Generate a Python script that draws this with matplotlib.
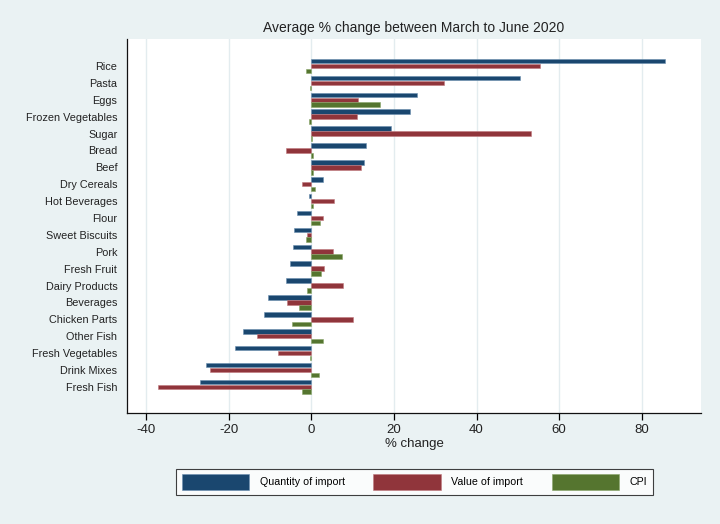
import matplotlib
matplotlib.use("Agg")
import matplotlib.pyplot as plt
import numpy as np

plt.rcParams['font.family'] = ['Liberation Sans', 'DejaVu Sans']
plt.rcParams['axes.unicode_minus'] = False

# categories top to bottom
categories = ["Rice", "Pasta", "Eggs", "Frozen Vegetables", "Sugar", "Bread", "Beef",
              "Dry Cereals", "Hot Beverages", "Flour", "Sweet Biscuits", "Pork",
              "Fresh Fruit", "Dairy Products", "Beverages", "Chicken Parts",
              "Other Fish", "Fresh Vegetables", "Drink Mixes", "Fresh Fish"]

quantity = [85.7, 50.6, 25.5, 23.9, 19.3, 13.2, 12.7, 2.7, -0.5, -3.6, -4.2, -4.4,
            -5.3, -6.2, -10.5, -11.4, -16.6, -18.6, -25.5, -26.9]
value = [55.4, 32.1, 11.4, 11.1, 53.3, -6.2, 12.0, -2.2, 5.5, 2.9, -1.0, 5.3,
         3.0, 7.6, -6.0, 10.1, -13.3, -8.0, -24.7, -37.3]
cpi = [-1.3, -0.4, 16.6, -0.6, 0.2, 0.3, 0.3, 0.8, 0.3, 2.0, -1.3, 7.3,
       2.3, -1.1, -2.9, -4.8, 2.8, -0.3, 1.9, -2.2]

series_names = ["Quantity of import", "Value of import", "CPI"]
colors = ["#1a476f", "#90353b", "#55752f"]
edges = ["#6b8fb0", "#c07a7f", "#8aa66a"]
bg = "#eaf2f3"

fig = plt.figure(figsize=(7.2, 5.24), dpi=100, facecolor=bg)
ax = fig.add_axes([127/720, 1-413/524, (701-127)/720, (413-39)/524])
ax.set_facecolor("white")

y = np.arange(len(categories))
h = 0.27
offsets = [-0.29, 0.0, 0.29]
handles = []
for vals, off, c, ec, name in zip([quantity, value, cpi], offsets, colors, edges, series_names):
    b = ax.barh(y + off, vals, height=h, color=c, edgecolor=ec, linewidth=0.4, label=name, zorder=3)
    handles.append(b)

ax.set_ylim(len(categories) - 1 + 1.55, -1.6)
ax.set_xlim(-44.7, 94.4)
ax.set_yticks(y)
ax.set_yticklabels(categories, fontsize=7.8, color="#222222")
ax.tick_params(axis='y', length=0, pad=7)
ax.set_xticks([-40, -20, 0, 20, 40, 60, 80])
ax.tick_params(axis='x', length=5, width=0.9, labelsize=9.5, pad=3, labelcolor="#222222")
ax.grid(axis='x', color="#e3ecef", linewidth=1, zorder=0)
for s in ["top", "right"]:
    ax.spines[s].set_visible(False)
for s in ["left", "bottom"]:
    ax.spines[s].set_color("#111111")
    ax.spines[s].set_linewidth(0.9)

ax.set_xlabel("% change", fontsize=9.5, labelpad=1, color="#222222")
ax.set_title("Average % change between March to June 2020", fontsize=10, pad=5, color="#222222")

leg = fig.legend(handles=handles, labels=series_names, ncol=3, loc="center",
                 bbox_to_anchor=(171/720, 1-498/524, 487/720, 32/524), mode="expand",
                 fontsize=7.7, handlelength=6.3, handleheight=1.9, handletextpad=1.0,
                 frameon=True, fancybox=False, borderpad=0.5)
leg.get_frame().set_edgecolor("#111111")
leg.get_frame().set_linewidth(0.8)
leg.get_frame().set_facecolor("white")

fig.savefig("out.png", dpi=100, facecolor=bg)
